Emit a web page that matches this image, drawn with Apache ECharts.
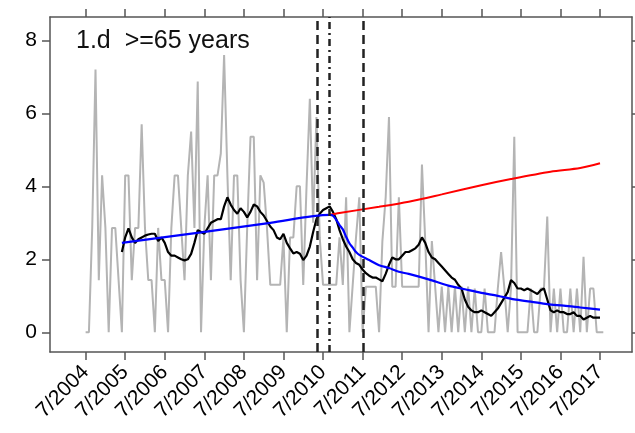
<!DOCTYPE html>
<html>
<head>
<meta charset="utf-8">
<script src="https://cdn.jsdelivr.net/npm/echarts@6/dist/echarts.min.js"></script>
<style>html,body{margin:0;padding:0;background:#fff}#c{width:635px;height:433px}</style>
</head>
<body>
<div id="c"></div>
<script>
// x values are months since 7/2004
const tickMonths = [0,12,24,36,48,60,72,84,96,108,120,132,144,156];
const tickLabels = ["7/2004","7/2005","7/2006","7/2007","7/2008","7/2009","7/2010","7/2011","7/2012","7/2013","7/2014","7/2015","7/2016","7/2017"];
const yTicks = [0,2,4,6,8];
const titleText = "1.d  >=65 years";

// monthly observed values (gray), starting at month 0
const monthlyValues = [
0,0,2.86,7.2,1.43,4.3,2.86,0,2.86,2.86,1.43,0,
4.3,4.3,1.43,2.86,2.86,5.7,2.86,1.43,1.43,0,2.86,1.43,
1.43,0,2.86,4.3,4.3,2.86,1.43,4.3,5.5,2.86,6.87,0,
2.86,4.3,1.43,4.3,4.3,4.9,7.6,4.3,1.43,4.3,4.3,1.43,
0,2.86,5.36,5.36,1.43,4.3,4.1,2.86,1.3,1.3,1.3,1.3,
2.6,0,2.6,2.6,4.0,4.0,1.3,4.0,6.4,3.0,5.9,2.6,
1.3,1.3,1.3,1.3,1.3,2.6,1.3,3.7,0,1.3,2.6,3.7,
0,1.25,1.25,1.25,1.25,0,2.5,3.7,5.9,1.25,1.25,3.7,
1.25,1.25,1.25,1.25,1.25,1.25,4.6,2.5,0,2.5,1.25,0,
1.25,0,1.25,0,1.25,0,1.25,0,1.25,0,1.2,0,
0,1.2,0,0,0,1.2,2.2,1.2,0,1.2,5.36,0,
0,0,0,1.2,0,0,1.2,1.2,3.17,0,1.2,0,
1.2,0,0,1.2,0,1.2,0,2.07,0,1.2,1.2,0,
0,0
];

// moving average (black), starting at month 11
const smoothStart = 11;
const smoothValues = [
2.2,2.6,2.85,2.6,2.45,2.55,2.6,2.65,2.68,2.7,2.7,2.5,
2.6,2.45,2.2,2.1,2.1,2.05,2.0,1.97,2.0,2.15,2.45,2.8,
2.75,2.7,2.85,3.0,3.05,3.1,3.1,3.45,3.7,3.5,3.35,3.25,
3.4,3.3,3.15,3.3,3.5,3.45,3.3,3.2,3.05,2.9,2.8,2.6,
2.55,2.7,2.45,2.3,2.16,2.2,2.15,1.98,2.1,2.35,2.75,3.1,
3.25,3.35,3.4,3.45,3.3,3.1,2.8,2.55,2.35,2.2,2.0,1.9,
1.85,1.72,1.62,1.55,1.5,1.5,1.45,1.4,1.6,1.85,2.05,2.0,
2.0,2.1,2.2,2.2,2.25,2.3,2.4,2.6,2.45,2.2,2.05,2.0,
1.9,1.8,1.7,1.6,1.5,1.44,1.3,1.2,0.9,0.7,0.6,0.55,
0.55,0.6,0.55,0.5,0.45,0.55,0.65,0.8,0.95,1.1,1.43,1.35,
1.2,1.2,1.15,1.2,1.15,1.1,1.05,1.15,1.2,0.9,0.6,0.55,
0.6,0.55,0.55,0.5,0.5,0.55,0.45,0.45,0.35,0.4,0.45,0.4,
0.4,0.4
];

// fitted trend (blue)
const fitMonths = [11,35,56,74,75,76,77,78,79,80,81,82,83,86,89,92,95,98,104,110,115,120,125,130,135,140,145,150,156];
const fitValues = [2.45,2.74,3.0,3.22,3.2,3.08,2.94,2.82,2.62,2.44,2.32,2.2,2.12,1.98,1.84,1.76,1.66,1.6,1.45,1.28,1.18,1.08,1.0,0.9,0.84,0.77,0.73,0.68,0.62];

// counterfactual trend (red)
const cfMonths = [74,77,89,98,108,120,129,141,150,156];
const cfValues = [3.22,3.27,3.44,3.58,3.78,4.03,4.2,4.4,4.5,4.63];

// vertical event markers (months)
const dashedMonths = [70.2,84.1];
const dashDotMonths = [74];

const FONT = "Liberation Sans";
const boxColor = "#555";

const grayData = monthlyValues.map((v,i)=>[i,v]);
const blackData = smoothValues.map((v,i)=>[smoothStart+i,v]);
const blueData = fitMonths.map((m,i)=>[m,fitValues[i]]);
const redData = cfMonths.map((m,i)=>[m,cfValues[i]]);

const chart = echarts.init(document.getElementById('c'), null, {renderer:'canvas'});
const xMin = -10.8, xMax = 165.7, yMin = -0.54, yMax = 8.64;
const axisLineStyle = {show:true, onZero:false, lineStyle:{color:boxColor, width:1.5}};
const tickStyle = {color:boxColor, width:1.5};

chart.setOption({
  animation:false,
  grid:{left:50, right:3, top:17, bottom:81},
  graphic:[{type:'text', left:76, top:29, style:{text:titleText, font:'25px "'+FONT+'"', fill:'#111'}}],
  xAxis:[
    {type:'value', min:xMin, max:xMax, position:'bottom',
     axisLine:axisLineStyle,
     axisTick:{show:true, customValues:tickMonths, length:8, lineStyle:tickStyle},
     axisLabel:{show:true, customValues:tickMonths, rotate:45, margin:17, fontFamily:FONT, fontSize:21, color:'#000',
       formatter:(v)=>tickLabels[Math.round(v/12)]},
     splitLine:{show:false}},
    {type:'value', min:xMin, max:xMax, position:'top',
     axisLine:axisLineStyle,
     axisTick:{show:true, customValues:tickMonths, length:8, lineStyle:tickStyle},
     axisLabel:{show:false}, splitLine:{show:false}}
  ],
  yAxis:[
    {type:'value', min:yMin, max:yMax, position:'left',
     axisLine:axisLineStyle,
     axisTick:{show:true, customValues:yTicks, length:8, lineStyle:tickStyle},
     axisLabel:{show:true, customValues:yTicks, margin:13, fontFamily:FONT, fontSize:21, color:'#000'},
     splitLine:{show:false}},
    {type:'value', min:yMin, max:yMax, position:'right',
     axisLine:axisLineStyle,
     axisTick:{show:true, customValues:yTicks, length:8, lineStyle:tickStyle},
     axisLabel:{show:false}, splitLine:{show:false}}
  ],
  series:[
    {type:'line', data:grayData, showSymbol:false, lineStyle:{color:'#b4b4b4', width:2}, z:1},
    {type:'line', data:blackData, showSymbol:false, lineStyle:{color:'#000', width:2.2}, z:2},
    {type:'line', data:redData, showSymbol:false, smooth:0.3, lineStyle:{color:'#ff0000', width:2}, z:3},
    {type:'line', data:blueData, showSymbol:false, smooth:0.3, lineStyle:{color:'#0000ff', width:2.2}, z:4},
    {type:'line', data:[], z:5,
     markLine:{silent:true, symbol:['none','none'], label:{show:false},
       data:[
         ...dashedMonths.map(m=>({xAxis:m, lineStyle:{color:'#222', width:2.5, type:[9,5]}})),
         ...dashDotMonths.map(m=>({xAxis:m, lineStyle:{color:'#222', width:2.5, type:[7,4,2,4]}}))
       ]}}
  ]
});
</script>
</body>
</html>
